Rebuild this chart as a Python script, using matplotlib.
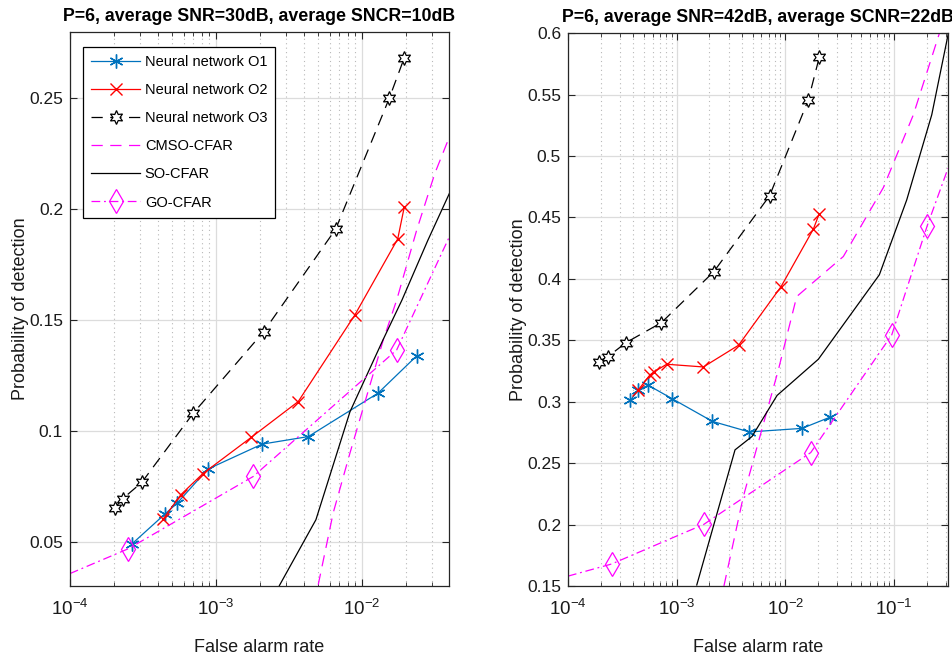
import numpy as np
import matplotlib
matplotlib.use("Agg")
import matplotlib.pyplot as plt
from matplotlib.ticker import LogLocator, NullFormatter

plt.rcParams['font.family'] = ['Liberation Sans', 'DejaVu Sans']
plt.rcParams['mathtext.fontset'] = 'custom'
plt.rcParams['mathtext.rm'] = 'Liberation Sans'
plt.rcParams['mathtext.it'] = 'Liberation Sans'

# ---------------- Left panel data ----------------
L_o1_x = [2.67e-4, 4.48e-4, 5.43e-4, 8.77e-4, 2.07e-3, 4.29e-3, 1.289e-2, 2.37e-2]
L_o1_y = [0.0491, 0.0625, 0.0674, 0.0827, 0.0940, 0.0974, 0.1170, 0.1338]
L_o2_x = [4.35e-4, 5.75e-4, 8.10e-4, 1.74e-3, 3.66e-3, 8.91e-3, 1.759e-2, 1.95e-2]
L_o2_y = [0.0602, 0.0712, 0.0806, 0.0970, 0.1132, 0.1521, 0.1866, 0.2010]
L_o3_x = [2.03e-4, 2.30e-4, 3.10e-4, 7.00e-4, 2.12e-3, 6.61e-3, 1.538e-2, 1.95e-2]
L_o3_y = [0.0652, 0.0694, 0.0767, 0.1080, 0.1447, 0.1910, 0.2500, 0.2683]
L_cmso_x = [5.02e-3, 6.35e-3, 8.28e-3, 1.076e-2, 1.40e-2, 1.73e-2, 2.37e-2, 3.16e-2, 4.01e-2]
L_cmso_y = [0.0306, 0.0629, 0.0900, 0.1155, 0.1410, 0.1590, 0.1905, 0.2162, 0.2333]
L_so_x = [2.72e-3, 4.84e-3, 8.28e-3, 1.393e-2, 1.88e-2, 2.83e-2, 4.01e-2]
L_so_y = [0.0302, 0.0599, 0.1086, 0.1410, 0.1590, 0.1860, 0.2077]
L_go_x = [1.0e-4, 2.51e-4, 1.80e-3, 1.73e-2, 4.0e-2]
L_go_y = [0.0356, 0.0468, 0.0794, 0.1365, 0.1880]
L_go_marks = [1, 2, 3]

# ---------------- Right panel data ----------------
R_o1_x = [3.74e-4, 4.44e-4, 5.48e-4, 9.06e-4, 2.13e-3, 4.66e-3, 1.423e-2, 2.57e-2]
R_o1_y = [0.3010, 0.3096, 0.3134, 0.3025, 0.2840, 0.2754, 0.2783, 0.2874]
R_o2_x = [4.40e-4, 5.67e-4, 6.18e-4, 8.09e-4, 1.76e-3, 3.71e-3, 9.12e-3, 1.807e-2, 2.04e-2]
R_o2_y = [0.3092, 0.3218, 0.3243, 0.3305, 0.3283, 0.3460, 0.3937, 0.4405, 0.4527]
R_o3_x = [1.94e-4, 2.33e-4, 3.42e-4, 7.24e-4, 2.20e-3, 7.15e-3, 1.626e-2, 2.05e-2]
R_o3_y = [0.3327, 0.3367, 0.3481, 0.3644, 0.4060, 0.4676, 0.5458, 0.5805]
R_cmso_x = [2.72e-3, 4.10e-3, 8.61e-3, 1.27e-2, 2.08e-2, 3.41e-2, 7.96e-2, 1.503e-1, 2.64e-1]
R_cmso_y = [0.1500, 0.2227, 0.3259, 0.3856, 0.4019, 0.4182, 0.4743, 0.5336, 0.6014]
R_so_x = [1.53e-3, 3.44e-3, 4.93e-3, 8.38e-3, 2.01e-2, 7.31e-2, 1.306e-1, 2.219e-1, 3.155e-1]
R_so_y = [0.1508, 0.2608, 0.2717, 0.3051, 0.3346, 0.4033, 0.4643, 0.5336, 0.6000]
R_go_x = [1.0e-4, 2.52e-4, 1.78e-3, 1.71e-2, 9.51e-2, 2.018e-1, 3.13e-1]
R_go_y = [0.1580, 0.1679, 0.2002, 0.2586, 0.3544, 0.4434, 0.4900]
R_go_marks = [1, 2, 3, 4, 5]

labels = ["Neural network O1", "Neural network O2", "Neural network O3",
          "CMSO-CFAR", "SO-CFAR", "GO-CFAR"]

BLUE = '#0072BD'
MAG = '#FF00FF'
AX_C = '#262626'
lw = 0.9
hexagram = (6, 1, 0)
asterisk = (6, 2, 0)


def style_axes(ax, xlim, ylim, yticks):
    ax.set_xscale('log')
    ax.set_xlim(*xlim)
    ax.set_ylim(*ylim)
    ax.set_yticks(yticks)
    ax.set_yticklabels([('%g' % t) for t in yticks])
    ax.xaxis.set_major_locator(LogLocator(base=10, numticks=10))
    ax.xaxis.set_minor_locator(LogLocator(base=10, subs=np.arange(2, 10), numticks=20))
    ax.xaxis.set_minor_formatter(NullFormatter())
    ax.grid(True, which='major', color='#dcdcdc', lw=0.9, ls='-')
    ax.grid(True, which='minor', axis='x', color='#b8b8b8', lw=0.8, ls=(0, (1, 3)))
    ax.set_axisbelow(True)
    ax.tick_params(which='both', direction='in', top=True, right=True,
                   colors=AX_C, labelcolor='#1a1a1a')
    ax.tick_params(axis='y', labelsize=12.5, pad=5)
    ax.tick_params(axis='x', labelsize=13.5, pad=9)
    ax.tick_params(which='major', length=5, width=0.8)
    ax.tick_params(which='minor', length=3, width=0.6)
    for s in ax.spines.values():
        s.set_color(AX_C)
        s.set_linewidth(0.9)
    ax.set_xlabel("False alarm rate", fontsize=13, color='#1a1a1a', labelpad=15)
    ax.set_ylabel("Probability of detection", fontsize=13, color='#1a1a1a', labelpad=0)


def draw(ax, o1x, o1y, o2x, o2y, o3x, o3y, cx, cy, sx, sy, gx, gy, gm):
    h1, = ax.plot(o1x, o1y, color=BLUE, lw=lw, marker=asterisk, ms=10, mew=1.0)
    h2, = ax.plot(o2x, o2y, color='red', lw=lw, marker='x', ms=8, mew=1.0)
    h3, = ax.plot(o3x, o3y, color='k', lw=lw, ls=(0, (9, 6)), marker=hexagram, ms=10,
                  mfc='white', mec='k', mew=0.9)
    h4, = ax.plot(cx, cy, color=MAG, lw=lw, ls=(0, (9, 6)))
    h5, = ax.plot(sx, sy, color='k', lw=lw)
    h6, = ax.plot(gx, gy, color=MAG, lw=lw, ls=(0, (7, 3, 1.5, 3)), marker='d', ms=12,
                  mfc='none', mec=MAG, mew=0.9, markevery=gm)
    return [h1, h2, h3, h4, h5, h6]


fig = plt.figure(figsize=(9.52, 6.64), dpi=100)
axL = fig.add_axes([0.0735, 0.1175, 0.398, 0.8345])
axR = fig.add_axes([0.5966, 0.1175, 0.3992, 0.8325])

hs = draw(axL, L_o1_x, L_o1_y, L_o2_x, L_o2_y, L_o3_x, L_o3_y,
          L_cmso_x, L_cmso_y, L_so_x, L_so_y, L_go_x, L_go_y, L_go_marks)
style_axes(axL, (1e-4, 0.0394), (0.03, 0.28), [0.05, 0.1, 0.15, 0.2, 0.25])
axL.set_title("P=6, average SNR=30dB, average SNCR=10dB", fontsize=12.8,
              fontweight='bold', pad=8)

draw(axR, R_o1_x, R_o1_y, R_o2_x, R_o2_y, R_o3_x, R_o3_y,
     R_cmso_x, R_cmso_y, R_so_x, R_so_y, R_go_x, R_go_y, R_go_marks)
style_axes(axR, (1e-4, 0.313), (0.15, 0.6),
           [0.15, 0.2, 0.25, 0.3, 0.35, 0.4, 0.45, 0.5, 0.55, 0.6])
axR.set_title("P=6, average SNR=42dB, average SCNR=22dB", fontsize=12.8,
              fontweight='bold', pad=8)

leg = axL.legend(hs, labels, loc='upper left', bbox_to_anchor=(0.034, 0.973),
                 borderaxespad=0, fontsize=10.5, handlelength=3.4, handletextpad=0.3,
                 labelspacing=0.97, fancybox=False, framealpha=1, edgecolor='k',
                 borderpad=0.55)
leg.get_frame().set_linewidth(0.9)

fig.savefig("out.png", dpi=100)
